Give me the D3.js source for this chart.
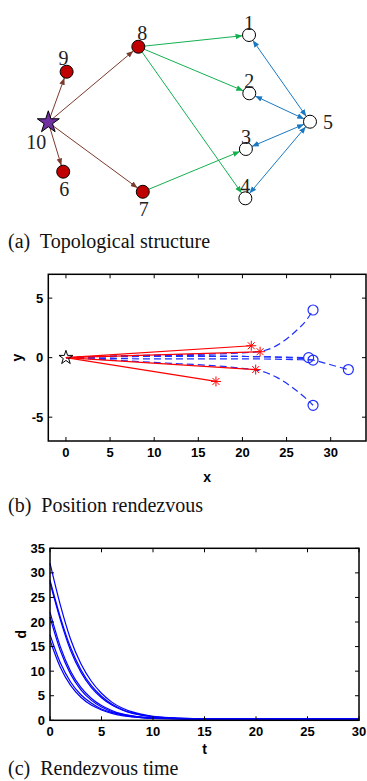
<!DOCTYPE html>
<html><head><meta charset="utf-8">
<script src="https://cdn.jsdelivr.net/npm/d3@7/dist/d3.min.js"></script>
<style>
html,body{margin:0;padding:0;background:#fff;}
svg{display:block;}
text{white-space:pre;}
</style></head>
<body>
<script>
// ---------- Panel (a) data: topology ----------
const nodeIds   = [1, 2, 3, 4, 5, 6, 7, 8, 9, 10];
const nodeX     = [7.67, 7.68, 7.55, 7.53, 10, 0.57, 3.61, 3.44, 0.70, 0];
const nodeY     = [0, 3.57, 6.98, 10, 5.31, 8.37, 9.6, 0.72, 2.25, 5.35];
const nodeKind  = ["follower","follower","follower","follower","follower","relay","relay","relay","relay","leader"];
const edgeFrom  = [10, 10, 10, 10, 8, 8, 8, 7, 5, 5, 5, 5];
const edgeTo    = [9, 8, 6, 7, 1, 2, 4, 3, 1, 2, 3, 4];
const edgeType  = ["leader","leader","leader","leader","relay","relay","relay","relay","mutual","mutual","mutual","mutual"];

// ---------- Panel (b) data: positions ----------
const redEndX = [21, 22, 21.5, 17];
const redEndY = [1, 0.5, -1, -2];
const blueX = [
  [0, 10, 20, 22.5, 24.5, 26, 27.3, 28],
  [0, 10, 20, 22, 24, 26, 27.3, 28],
  [0, 10, 20, 25, 28, 30, 32],
  [0, 10, 20, 27.5],
  [0, 10, 20, 28]
];
const blueY = [
  [0, 0.2, 0.4, 0.6, 1.3, 2.2, 3.2, 4],
  [0, -0.4, -0.9, -1.1, -1.7, -2.7, -3.5, -4],
  [0, 0.1, 0.1, 0, -0.2, -0.6, -1],
  [0, 0.2, 0.1, 0],
  [0, -0.1, -0.1, -0.2]
];
const bXTicks = [0, 5, 10, 15, 20, 25, 30];
const bYTicks = [-5, 0, 5];

// ---------- Panel (c) data: distances over time ----------
const tVals = [0, 1, 2, 3, 4, 5, 6, 7, 8, 9, 10, 12, 14, 17, 20, 25, 30];
const dSeries = [
  [32, 23.5, 16.5, 11.5, 8, 5.5, 3.7, 2.5, 1.7, 1.2, 0.8, 0.5, 0.35, 0.3, 0.3, 0.3, 0.3],
  [28.5, 21, 14.8, 10.3, 7.1, 4.9, 3.3, 2.2, 1.5, 1.05, 0.75, 0.45, 0.35, 0.3, 0.3, 0.3, 0.3],
  [28, 20.5, 14.2, 9.8, 6.7, 4.6, 3.1, 2.1, 1.4, 1.0, 0.7, 0.45, 0.35, 0.3, 0.3, 0.3, 0.3],
  [22, 15, 10, 6.7, 4.5, 3.0, 2.0, 1.3, 0.9, 0.65, 0.5, 0.35, 0.3, 0.3, 0.3, 0.3, 0.3],
  [21, 14.2, 9.4, 6.2, 4.1, 2.7, 1.8, 1.2, 0.85, 0.6, 0.45, 0.35, 0.3, 0.3, 0.3, 0.3, 0.3],
  [17.4, 11.7, 7.8, 5.2, 3.5, 2.3, 1.6, 1.1, 0.75, 0.55, 0.42, 0.33, 0.3, 0.3, 0.3, 0.3, 0.3],
  [16.3, 10.8, 7.1, 4.7, 3.1, 2.1, 1.4, 0.95, 0.7, 0.5, 0.4, 0.32, 0.3, 0.3, 0.3, 0.3, 0.3]
];
const cXTicks = [0, 5, 10, 15, 20, 25, 30];
const cYTicks = [0, 5, 10, 15, 20, 25, 30, 35];

const captions = ["(a)  Topological structure", "(b)  Position rendezvous", "(c)  Rendezvous time"];

// ---------- drawing ----------
const W = 367, H = 781;
const svg = d3.select("body").append("svg").attr("width", W).attr("height", H);
const serif = "'Liberation Serif','Times New Roman',serif";
const sans = "'Liberation Sans',Arial,sans-serif";

const edgeColor = {leader: "#7b3a2c", relay: "#14b050", mutual: "#1a78c2"};
const defs = svg.append("defs");
Object.entries(edgeColor).forEach(([k, c]) => {
  defs.append("marker").attr("id", "arr-" + k).attr("viewBox", "0 0 10 10")
    .attr("refX", 10).attr("refY", 5).attr("markerWidth", 7).attr("markerHeight", 7)
    .attr("markerUnits", "userSpaceOnUse").attr("orient", "auto-start-reverse")
    .append("path").attr("d", "M0,1 L10,5 L0,9 Z").attr("fill", c);
});

// Panel (a)
const ax = d3.scaleLinear().domain([0, 10]).range([48.3, 310]);
const ay = d3.scaleLinear().domain([0, 10]).range([35, 198.3]);
const nodes = nodeIds.map((id, i) => ({id, x: ax(nodeX[i]), y: ay(nodeY[i]), kind: nodeKind[i]}));
const byId = new Map(nodes.map(n => [n.id, n]));
const gA = svg.append("g");
const R = 6.5;
edgeFrom.forEach((f, i) => {
  const a = byId.get(f), b = byId.get(edgeTo[i]);
  const dx = b.x - a.x, dy = b.y - a.y, L = Math.hypot(dx, dy);
  const ux = dx / L, uy = dy / L;
  const ra = a.kind === "leader" ? 3 : R, rb = R;
  const t = edgeType[i];
  const line = gA.append("line")
    .attr("x1", a.x + ux * ra).attr("y1", a.y + uy * ra)
    .attr("x2", b.x - ux * rb).attr("y2", b.y - uy * rb)
    .attr("stroke", edgeColor[t]).attr("stroke-width", 1)
    .attr("marker-end", `url(#arr-${t})`);
  if (t === "mutual") line.attr("marker-start", `url(#arr-${t})`);
});
const star = d3.symbol().type(d3.symbolStar).size(150);
nodes.forEach(n => {
  if (n.kind === "leader") {
    gA.append("path").attr("d", star).attr("transform", `translate(${n.x},${n.y})`)
      .attr("fill", "#7030a0").attr("stroke", "#000").attr("stroke-width", 1);
  } else {
    gA.append("circle").attr("cx", n.x).attr("cy", n.y).attr("r", R)
      .attr("fill", n.kind === "relay" ? "#c00000" : "#fff")
      .attr("stroke", "#000").attr("stroke-width", 1);
  }
});
const labelOff = {1: [0, -12], 2: [0, -12], 3: [0, -12], 4: [0, -12], 5: [18, 0], 6: [1, 17], 7: [1, 17], 8: [4, -14], 9: [-3, -14], 10: [-12, 20]};
nodes.forEach(n => {
  gA.append("text").attr("x", n.x + labelOff[n.id][0]).attr("y", n.y + labelOff[n.id][1])
    .attr("text-anchor", "middle").attr("dominant-baseline", "central")
    .attr("font-family", serif).attr("font-size", 20).attr("fill", "#222").text(n.id);
});

// helper for matlab-like box axes
function boxAxes(g, x, y, xt, yt, xlab, ylab, labY, labX) {
  const [x0, x1] = x.range(), [y0, y1] = y.range();
  g.append("rect").attr("x", x0).attr("y", y1).attr("width", x1 - x0).attr("height", y0 - y1)
    .attr("fill", "none").attr("stroke", "#000").attr("stroke-width", 1.5);
  const tl = 4;
  xt.forEach(v => {
    g.append("line").attr("x1", x(v)).attr("x2", x(v)).attr("y1", y0).attr("y2", y0 - tl).attr("stroke", "#000");
    g.append("line").attr("x1", x(v)).attr("x2", x(v)).attr("y1", y1).attr("y2", y1 + tl).attr("stroke", "#000");
    g.append("text").attr("x", x(v)).attr("y", y0 + 16).attr("text-anchor", "middle")
      .attr("font-family", sans).attr("font-weight", "bold").attr("font-size", 13).text(v);
  });
  yt.forEach(v => {
    g.append("line").attr("y1", y(v)).attr("y2", y(v)).attr("x1", x0).attr("x2", x0 + tl).attr("stroke", "#000");
    g.append("line").attr("y1", y(v)).attr("y2", y(v)).attr("x1", x1).attr("x2", x1 - tl).attr("stroke", "#000");
    g.append("text").attr("x", x0 - 5).attr("y", y(v)).attr("text-anchor", "end").attr("dominant-baseline", "central")
      .attr("font-family", sans).attr("font-weight", "bold").attr("font-size", 13).text(v);
  });
  g.append("text").attr("x", (x0 + x1) / 2).attr("y", labY).attr("text-anchor", "middle").attr("dominant-baseline", "central")
    .attr("font-family", sans).attr("font-weight", "bold").attr("font-size", 14).text(xlab);
  g.append("text").attr("transform", `translate(${labX},${(y0 + y1) / 2}) rotate(-90)`).attr("text-anchor", "middle")
    .attr("dominant-baseline", "central")
    .attr("font-family", sans).attr("font-weight", "bold").attr("font-size", 14).text(ylab);
}

// Panel (b)
const bx = d3.scaleLinear().domain([-2, 34]).range([48.3, 366]);
const by = d3.scaleLinear().domain([-7, 7]).range([441, 274.3]);
const gB = svg.append("g");
const clip = defs.append("clipPath").attr("id", "clipB");
clip.append("rect").attr("x", 48.3).attr("y", 274.3).attr("width", 366 - 48.3).attr("height", 441 - 274.3);
const gBd = gB.append("g").attr("clip-path", "url(#clipB)");
const bline = d3.line().x((d) => bx(d[0])).y(d => by(d[1])).curve(d3.curveMonotoneX);
blueX.forEach((xs, i) => {
  const pts = xs.map((v, j) => [v, blueY[i][j]]);
  gBd.append("path").attr("d", bline(pts)).attr("fill", "none").attr("stroke", "#1f2fff")
    .attr("stroke-width", 1.2).attr("stroke-dasharray", "7,4");
  const e = pts[pts.length - 1];
  gBd.append("circle").attr("cx", bx(e[0])).attr("cy", by(e[1])).attr("r", 5)
    .attr("fill", "none").attr("stroke", "#1f2fff").attr("stroke-width", 1.2);
});
redEndX.forEach((xv, i) => {
  gBd.append("line").attr("x1", bx(0)).attr("y1", by(0)).attr("x2", bx(xv)).attr("y2", by(redEndY[i]))
    .attr("stroke", "#ff0000").attr("stroke-width", 1.2);
  const cx = bx(xv), cy = by(redEndY[i]), s = 5;
  const g = gBd.append("g").attr("stroke", "#ff0000").attr("stroke-width", 1);
  g.append("line").attr("x1", cx - s).attr("x2", cx + s).attr("y1", cy).attr("y2", cy);
  g.append("line").attr("x1", cx).attr("x2", cx).attr("y1", cy - s).attr("y2", cy + s);
  g.append("line").attr("x1", cx - s * 0.7).attr("x2", cx + s * 0.7).attr("y1", cy - s * 0.7).attr("y2", cy + s * 0.7);
  g.append("line").attr("x1", cx - s * 0.7).attr("x2", cx + s * 0.7).attr("y1", cy + s * 0.7).attr("y2", cy - s * 0.7);
});
gBd.append("path").attr("d", d3.symbol().type(d3.symbolStar).size(60))
  .attr("transform", `translate(${bx(0)},${by(0)})`).attr("fill", "none").attr("stroke", "#000").attr("stroke-width", 1);
boxAxes(gB, bx, by, bXTicks, bYTicks, "x", "y", 477, 17);

// Panel (c)
const cx = d3.scaleLinear().domain([0, 30]).range([50, 359]);
const cy = d3.scaleLinear().domain([0, 35]).range([720.3, 548.3]);
const gC = svg.append("g");
const cline = d3.line().x((d, i) => cx(tVals[i])).y(d => cy(d)).curve(d3.curveMonotoneX);
dSeries.forEach(s => {
  gC.append("path").attr("d", cline(s)).attr("fill", "none").attr("stroke", "#0000ff").attr("stroke-width", 1.2);
});
boxAxes(gC, cx, cy, cXTicks, cYTicks, "t", "d", 749, 21);

// captions
[241, 505, 768].forEach((yy, i) => {
  svg.append("text").attr("x", 8).attr("y", yy).attr("dominant-baseline", "central")
    .attr("font-family", serif).attr("font-size", 20).attr("fill", "#111").text(captions[i]);
});
</script>
</body></html>
